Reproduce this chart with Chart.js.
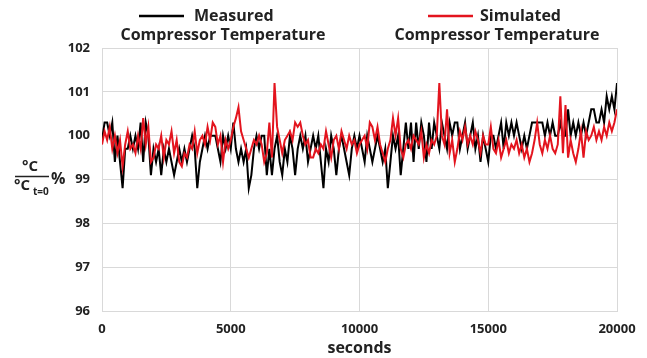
<!DOCTYPE html>
<html>
<head>
<meta charset="utf-8">
<script src="https://cdn.jsdelivr.net/npm/chart.js@4"></script>
<style>
html,body{margin:0;padding:0;background:#fff;}
#wrap{width:647px;height:358px;}
</style>
</head>
<body>
<div id="wrap"><canvas id="c" width="647" height="358"></canvas></div>
<script>
const xTicks = [0, 5000, 10000, 15000, 20000];
const yTicks = [96, 97, 98, 99, 100, 101, 102];
const timeStep = 100; // seconds between samples
const seriesNames = ["Measured\nCompressor Temperature", "Simulated\nCompressor Temperature"];
const xTitle = "seconds";

const measured = [
  99.9,100.3,100.3,100.0,100.3,99.4,100.0,99.4,98.8,99.7,
  99.7,100.0,99.7,100.0,99.7,100.3,99.4,100.3,100.0,99.1,
  99.7,99.4,99.7,99.1,99.7,99.4,99.7,99.4,99.1,99.4,
  99.7,99.4,99.7,99.4,99.7,100.0,99.7,98.8,99.4,99.7,
  100.0,99.7,100.0,100.0,100.0,99.7,99.4,100.0,99.7,100.0,
  99.7,100.3,99.7,99.4,99.7,99.4,99.7,98.8,99.1,99.7,
  100.0,99.7,100.0,100.0,99.1,99.7,99.1,99.7,100.0,99.4,
  99.1,99.7,99.4,100.0,99.7,99.1,99.7,100.0,99.7,100.0,
  99.4,99.7,100.0,99.7,100.0,99.4,98.8,99.7,99.4,100.0,
  99.7,99.1,99.7,100.0,99.7,99.4,99.1,99.7,100.0,99.7,
  100.0,99.7,99.4,100.0,99.7,99.4,99.7,100.0,99.7,99.4,
  99.7,98.8,99.4,100.0,99.7,100.0,99.1,99.7,100.3,99.7,
  100.3,99.4,100.3,99.7,100.3,100.0,99.4,100.3,99.7,100.3,
  100.0,99.7,100.3,100.0,99.7,100.3,100.0,100.3,100.3,99.7,
  100.0,100.3,99.7,100.0,100.3,99.7,100.0,99.4,100.0,99.7,
  99.4,100.0,100.0,99.7,100.0,100.3,99.7,100.3,100.0,100.3,
  100.0,100.3,100.0,99.7,100.0,99.7,100.0,100.3,100.3,100.3,
  100.3,100.3,100.0,100.3,100.0,100.3,100.0,100.0,100.3,100.0,
  100.0,100.6,100.0,100.3,100.0,100.3,100.0,100.3,100.0,100.3,
  100.6,100.6,100.3,100.3,100.6,100.3,100.9,100.6,100.9,100.6,
  101.2
];

const simulated = [
  99.8,100.1,99.9,100.2,99.7,100.0,99.6,99.9,99.3,99.8,
  100.1,99.7,99.8,99.6,100.0,99.7,100.4,99.8,100.2,99.4,
  99.5,99.8,99.7,100.0,99.5,99.9,99.8,100.1,99.6,99.9,
  99.4,99.3,99.6,99.5,99.8,99.7,100.1,99.6,99.9,100.0,
  99.8,100.2,99.9,100.3,100.2,99.8,100.0,99.4,99.9,99.7,
  99.9,100.2,100.4,100.65,100.1,99.9,99.7,99.5,99.7,99.9,
  99.8,100.0,99.8,99.4,99.6,100.3,99.5,101.2,100.2,99.9,
  99.6,99.9,100.0,100.1,99.9,100.3,100.2,100.3,100.0,99.8,
  99.9,99.5,99.5,99.7,99.6,99.8,99.7,100.1,99.8,99.5,
  99.9,100.0,99.7,100.1,99.9,99.7,100.0,99.8,99.9,99.6,
  99.8,99.9,100.0,99.7,100.3,100.2,99.9,100.2,99.8,99.6,
  99.4,99.7,99.9,100.4,100.0,100.4,99.7,99.5,99.8,99.9,
  99.7,100.0,99.9,99.8,100.1,99.5,99.8,99.6,99.9,99.8,
  100.0,101.2,100.0,99.8,100.6,99.6,99.9,99.4,99.7,100.1,
  99.9,100.2,99.8,100.0,99.8,100.1,99.9,99.6,100.0,99.8,
  99.8,100.2,99.7,99.6,99.9,99.5,99.7,99.9,99.6,99.8,
  99.7,99.9,99.6,99.8,99.5,99.7,99.4,99.6,99.9,100.3,
  99.8,99.6,99.9,99.7,100.0,99.7,99.6,99.8,100.9,99.6,
  100.7,99.5,99.9,99.6,99.4,99.7,100.1,99.5,100.1,99.9,
  100.0,100.2,99.9,100.1,99.9,100.2,100.0,100.3,100.1,100.3,
  100.6
];

const toPoints = arr => arr.map((v, i) => ({ x: i * timeStep, y: v }));

const BLACK = '#000000';
const RED = '#e3141e';
const TEXT = '#222222';
const FONT = '"Open Sans", "Liberation Sans", sans-serif';

const overlay = {
  id: 'overlay',
  afterDraw(chart) {
    const ctx = chart.ctx;
    ctx.save();
    ctx.fillStyle = TEXT;
    ctx.textBaseline = 'middle';
    // legend
    const items = [
      { color: BLACK, lx1: 139, lx2: 184, t1x: 194, c2: 223, name: seriesNames[0] },
      { color: RED, lx1: 428, lx2: 473, t1x: 480, c2: 497, name: seriesNames[1] }
    ];
    ctx.font = 'bold 16px ' + FONT;
    items.forEach(it => {
      const [l1, l2] = it.name.split('\n');
      ctx.strokeStyle = it.color;
      ctx.lineWidth = 2.5;
      ctx.beginPath();
      ctx.moveTo(it.lx1, 16);
      ctx.lineTo(it.lx2, 16);
      ctx.stroke();
      ctx.textAlign = 'left';
      ctx.fillText(l1, it.t1x, 16);
      ctx.textAlign = 'center';
      ctx.fillText(l2, it.c2, 35);
    });
    // y axis title: °C / °C_{t=0} %
    ctx.font = 'bold 15px ' + FONT;
    ctx.textAlign = 'center';
    ctx.fillText('\u00B0C', 30, 167);
    ctx.strokeStyle = TEXT;
    ctx.lineWidth = 1.5;
    ctx.beginPath();
    ctx.moveTo(15, 176.5);
    ctx.lineTo(49, 176.5);
    ctx.stroke();
    ctx.textAlign = 'left';
    ctx.fillText('\u00B0C', 14, 186);
    ctx.font = 'bold 10px ' + FONT;
    ctx.fillText('t=0', 33, 192);
    ctx.font = 'bold 16px ' + FONT;
    ctx.fillText('%', 51, 179);
    ctx.restore();
  }
};

new Chart(document.getElementById('c'), {
  type: 'line',
  data: {
    datasets: [
      { label: seriesNames[1], data: toPoints(simulated), borderColor: RED, borderWidth: 2, pointRadius: 0, tension: 0, order: 0 },
      { label: seriesNames[0], data: toPoints(measured), borderColor: BLACK, borderWidth: 2, pointRadius: 0, tension: 0, order: 1 }
    ]
  },
  options: {
    responsive: false,
    animation: false,
    devicePixelRatio: 1,
    layout: { padding: { top: 48, right: 30, bottom: 0, left: 0 } },
    plugins: { legend: { display: false }, tooltip: { enabled: false } },
    scales: {
      x: {
        type: 'linear',
        min: xTicks[0], max: xTicks[xTicks.length - 1],
        afterBuildTicks: s => { s.ticks = xTicks.map(v => ({ value: v })); },
        afterFit: s => { s.height = 47; },
        grid: { color: '#d9d9d9', drawTicks: false, lineWidth: 1 },
        border: { color: '#d9d9d9' },
        ticks: { padding: 10, color: TEXT, font: { family: FONT, size: 13, weight: 'bold' }, callback: v => String(v), maxRotation: 0 },
        title: { display: true, text: xTitle, color: TEXT, font: { family: FONT, size: 16, weight: 'bold' }, padding: { top: 0, bottom: 0 } }
      },
      y: {
        min: yTicks[0], max: yTicks[yTicks.length - 1],
        afterBuildTicks: s => { s.ticks = yTicks.map(v => ({ value: v })); },
        afterFit: s => { s.width = 102; },
        grid: { color: '#d9d9d9', drawTicks: false, lineWidth: 1 },
        border: { color: '#d9d9d9' },
        ticks: { padding: 12, color: TEXT, font: { family: FONT, size: 13, weight: 'bold' } }
      }
    }
  },
  plugins: [overlay]
});
</script>
</body>
</html>
